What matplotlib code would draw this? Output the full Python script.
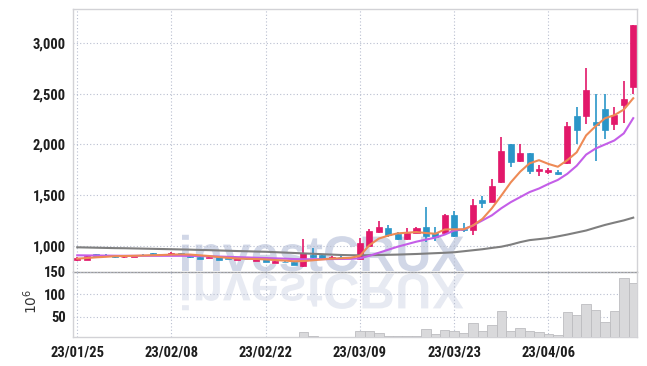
import matplotlib
matplotlib.use("Agg")
import matplotlib.pyplot as plt
import numpy as np
from matplotlib.textpath import TextPath
from matplotlib.patches import PathPatch
from matplotlib.font_manager import FontProperties, fontManager
from matplotlib.transforms import Affine2D, IdentityTransform

# ---------------- data ----------------
tick_labels = ["23/01/25", "23/02/08", "23/02/22", "23/03/09", "23/03/23", "23/04/06"]
tick_index = [0, 10, 20, 30, 40, 50]

opens = [860, 860, 918, 912, 898, 886, 891, 912, 930, 910,
         912, 925, 912, 892, 882, 887, 880, 860, 872, 853,
         866, 833, 843, 842, 802, 908, 908, 876, 892, 880,
         866, 1000, 1138, 1178, 1115, 1063, 1128, 1182, 1126, 1122,
         1303, 1165, 1155, 1451, 1435, 1634, 2005, 1837, 1920, 1742,
         1729, 1729, 1816, 2285, 2285, 2225, 2353, 2205, 2392, 2573]
closes = [876, 898, 902, 902, 886, 893, 910, 905, 912, 916,
          930, 918, 886, 872, 891, 862, 872, 876, 866, 869,
          840, 849, 838, 810, 925, 885, 876, 891, 885, 888,
          1024, 1148, 1182, 1106, 1063, 1128, 1178, 1096, 1089, 1303,
          1096, 1152, 1402, 1418, 1590, 1936, 1831, 1920, 1739, 1758,
          1745, 1713, 2185, 2146, 2542, 2192, 2139, 2294, 2451, 3182]
highs = [885, 900, 920, 915, 900, 896, 912, 915, 932, 920,
         934, 928, 914, 895, 894, 890, 885, 880, 876, 872,
         868, 852, 846, 845, 1063, 980, 912, 895, 896, 892,
         1073, 1160, 1244, 1207, 1135, 1170, 1185, 1379, 1180, 1310,
         1346, 1220, 1461, 1490, 1658, 2079, 2005, 2005, 1920, 1800,
         1770, 1745, 2221, 2374, 2760, 2498, 2498, 2371, 2630, 3182]
lows = [850, 858, 900, 898, 882, 882, 889, 902, 908, 906,
        910, 915, 880, 868, 878, 858, 868, 856, 862, 850,
        836, 830, 834, 805, 792, 880, 870, 872, 880, 876,
        862, 995, 1130, 1090, 1058, 1058, 1124, 1040, 1050, 1115,
        1090, 1140, 1105, 1370, 1430, 1620, 1782, 1830, 1709, 1693,
        1710, 1699, 1809, 2007, 2205, 1840, 2056, 2139, 2211, 2500]
volumes = [3, 3, 3, 3, 3, 3, 3, 3, 3, 3,
           3, 3, 3, 3, 3, 3, 3, 3, 3, 3,
           3, 3, 3, 3, 15, 7, 3.5, 3.5, 3.5, 3.5,
           18, 18, 13, 7, 7, 7, 7, 22.5, 11, 19.6,
           17.4, 13, 35, 17.4, 30.8, 62, 17.4, 24, 17.4, 15,
           10.7, 8.5, 60, 54, 78, 64, 37.5, 62, 136, 124.5]
ma_fast = [872, 878, 885, 890, 896, 898, 900, 903, 906, 908,
           912, 914, 912, 905, 898, 888, 880, 873, 870, 868,
           864, 858, 853, 846, 848, 856, 864, 872, 876, 880,
           900, 1005, 1070, 1100, 1122, 1128, 1135, 1125, 1118, 1160,
           1162, 1162, 1200, 1265, 1370, 1495, 1625, 1731, 1814, 1845,
           1808, 1780, 1845, 1923, 2090, 2180, 2259, 2290, 2345, 2457]
ma_mid = [905, 904, 903, 902, 901, 900, 900, 900, 900, 900,
          900, 900, 899, 897, 895, 893, 890, 887, 884, 881,
          878, 875, 872, 868, 866, 866, 867, 868, 869, 870,
          875, 900, 930, 960, 990, 1015, 1040, 1060, 1080, 1110,
          1150, 1160, 1200, 1250, 1300, 1370, 1430, 1480, 1530, 1565,
          1610, 1650, 1710, 1790, 1900, 1960, 2000, 2040, 2110, 2260]
ma_slow = [984, 982, 980, 978, 976, 975, 973, 971, 969, 967,
           965, 963, 961, 958, 956, 953, 950, 947, 945, 942,
           940, 936, 932, 928, 924, 920, 916, 912, 908, 906,
           905, 906, 908, 910, 912, 915, 918, 922, 926, 930,
           935, 945, 955, 965, 978, 990, 1010, 1035, 1055, 1065,
           1075, 1092, 1110, 1130, 1150, 1178, 1205, 1228, 1250, 1277]

# ---------------- fonts ----------------
def pick_condensed():
    prefs = ["LiberationSansNarrow-Bold", "RobotoCondensed-Bold", "RobotoCondensed-SemiBold",
             "NotoSans-CondensedBold", "NotoSans-CondensedSemiBold", "OpenSans-CondensedBold",
             "OpenSans_Condensed-Bold", "DejaVuSansCondensed-Bold"]
    files = [f.fname for f in fontManager.ttflist]
    for p in prefs:
        for fn in files:
            if p.lower() in fn.replace(" ", "").lower():
                return FontProperties(fname=fn)
    for fn in files:
        low = fn.lower()
        if ("narrow" in low or "condensed" in low) and "bold" in low and "italic" not in low and "oblique" not in low:
            return FontProperties(fname=fn)
    return FontProperties(family="DejaVu Sans", weight="bold")

tick_fp = pick_condensed()
tick_fp.set_size(10.5)

# ---------------- figure ----------------
W, H = 647, 366
fig = plt.figure(figsize=(W / 100, H / 100), dpi=100, facecolor="white")

def fx(px):
    return px / W

def fy(py):
    return 1 - py / H

left, right = 73, 637
top_main, sep, bot = 9.3, 272, 336.7
ax = fig.add_axes([fx(left), fy(sep), fx(right - left), (sep - top_main) / H])
axv = fig.add_axes([fx(left), fy(bot), fx(right - left), (bot - sep) / H], sharex=ax)
for a in (ax, axv):
    a.set_facecolor("none")

red = "#e2186a"
blue = "#2b96c8"
x = np.arange(len(opens))

# watermark
fp = FontProperties(family="Liberation Sans", weight="bold")
tp = TextPath((0, 0), "investCRUX", size=50, prop=fp)
bb = tp.get_extents()
x0 = 182 - bb.x0
base_top = H - 271
base_ref = H - 274
t1 = Affine2D().translate(x0, base_top)
t2 = Affine2D().scale(1, -1).translate(x0, base_ref)
p1 = PathPatch(t1.transform_path(tp), facecolor="#d1d7e7", edgecolor="none",
               transform=IdentityTransform(), zorder=-2)
p2 = PathPatch(t2.transform_path(tp), facecolor="#e7eaf2", edgecolor="none",
               transform=IdentityTransform(), zorder=-2)
fig.add_artist(p1)
fig.add_artist(p2)

# candles
cw = 0.64
for i in x:
    o, c, h, l = opens[i], closes[i], highs[i], lows[i]
    col = red if c >= o else blue
    ax.vlines(i, l, h, color=col, linewidth=1.2, zorder=3)
    lo, hi = min(o, c), max(o, c)
    if hi - lo >= 6:
        ax.bar(i, hi - lo, bottom=lo, width=cw, color=col, edgecolor=col, linewidth=0.5, zorder=4)
    else:
        ax.bar(i, 6, bottom=(lo + hi) / 2 - 3, width=cw, color=col, edgecolor=col, linewidth=0.5, zorder=4)

ax.plot(x, ma_slow, color="#7f7f7f", linewidth=1.5, zorder=5)
ax.plot(x, ma_mid, color="#c45ee8", linewidth=1.5, zorder=5)
ax.plot(x, ma_fast, color="#ee8a55", linewidth=1.5, zorder=5)

axv.bar(x, volumes, width=1.0, color="#d9d9db", edgecolor="#bdbdc0", linewidth=0.6, zorder=3)

ax.set_xlim(-0.45, 59.4)
ax.set_ylim(740, 3336)
axv.set_ylim(5.4, 150)

ax.set_yticks([1000, 1500, 2000, 2500, 3000])
ax.set_yticklabels(["1,000", "1,500", "2,000", "2,500", "3,000"])
axv.set_yticks([50, 100, 150])
axv.set_yticklabels(["50", "100", "150"])
axv.set_xticks(tick_index)
axv.set_xticklabels(tick_labels)
plt.setp(ax.get_xticklabels(), visible=False)

for a in (ax, axv):
    a.tick_params(length=0, pad=5, colors="#1e1e1e")
    for lab in a.get_yticklabels() + a.get_xticklabels():
        lab.set_fontproperties(tick_fp)
    a.grid(True, linestyle=(0, (1, 2)), color="#b9bfd0", linewidth=0.8, zorder=0)
    a.set_axisbelow(True)
    for s in a.spines.values():
        s.set_color("#d2d2d6")
        s.set_linewidth(1.0)
axv.tick_params(axis="x", pad=6)
ax.spines["bottom"].set_color("#9a9a9a")
axv.spines["top"].set_visible(False)

axv.set_ylabel(r"$10^{6}$", fontsize=10, color="#333333")
axv.yaxis.set_label_coords(-0.058, 0.55)

fig.savefig("out.png", dpi=100, facecolor="white")
